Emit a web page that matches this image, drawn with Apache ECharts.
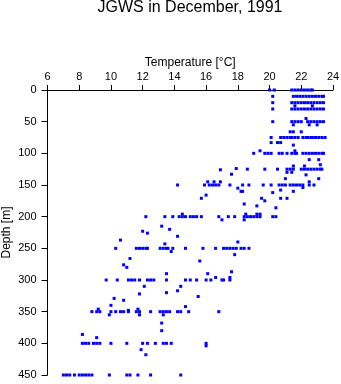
<!DOCTYPE html>
<html>
<head>
<meta charset="utf-8">
<script src="https://cdn.jsdelivr.net/npm/echarts@6/dist/echarts.min.js"></script>
<style>
html,body{margin:0;padding:0;background:#fff;}
#chart{width:341px;height:384px;}
</style>
</head>
<body>
<div id="chart"></div>
<script>
const titleText = "JGWS in December, 1991";
const xAxisName = "Temperature [°C]";
const yAxisName = "Depth [m]";
const xTicks = [6, 8, 10, 12, 14, 16, 18, 20, 22, 24];
const yTicks = [0, 50, 100, 150, 200, 250, 300, 350, 400, 450];

// depth levels (m) and temperatures (°C) observed at each level
const depths = [0, 10, 20, 25, 30, 45, 50, 55, 66, 75, 83, 87, 96, 100, 110, 118, 120, 124, 125, 126, 130, 133, 134, 140, 145, 150, 154, 155, 158, 160, 162, 166, 171, 175, 180, 183, 186, 196, 200, 205, 215, 220, 223, 226, 231, 237, 240, 243, 250, 255, 260, 266, 270, 276, 280, 287, 290, 296, 300, 310, 317, 320, 322, 326, 329, 332, 340, 342, 346, 348, 350, 355, 368, 380, 386, 391, 400, 404, 410, 418, 450];
const temps = [
  [20.0, 20.3, 21.4, 21.6, 21.8, 22.0, 22.2, 22.4, 22.6, 22.7],
  [20.2, 21.5, 21.7, 21.9, 22.1, 22.3, 22.5, 22.7, 22.9, 23.1, 23.3, 23.4],
  [20.2, 21.4, 21.6, 21.8, 22.0, 22.2, 22.4, 22.6, 22.8, 23.0, 23.2, 23.4],
  [21.6, 22.7],
  [20.2, 21.4, 21.6, 21.8, 22.0, 22.2, 22.4, 22.6, 22.8, 23.0, 23.2, 23.4],
  [22.3],
  [20.2, 21.4, 21.6, 21.8, 22.0, 22.4, 22.6, 22.8, 23.0, 23.2, 23.4],
  [21.5, 22.5, 23.0],
  [21.3, 21.5, 22.0],
  [20.1, 20.7, 20.9, 21.1, 21.3, 21.4, 21.6, 21.8, 22.1, 22.3, 22.4, 22.6, 22.7, 22.9, 23.1, 23.3, 23.5],
  [20.1, 20.5, 20.7],
  [21.5],
  [21.6, 19.4],
  [19.0, 19.7, 19.9, 20.1, 20.6, 20.8, 21.1, 21.4, 21.6, 21.7, 22.1, 22.3, 22.5, 22.7, 22.9, 23.1, 23.3, 23.4],
  [22.5, 23.1],
  [23.2],
  [21.5, 22.2],
  [17.9],
  [18.6, 19.7, 20.5, 21.1, 21.3, 21.5, 22.0, 22.2, 22.4, 22.6, 22.8, 23.0, 23.2, 23.3],
  [16.9],
  [21.1, 21.4],
  [17.6],
  [22.3],
  [23.1, 21.0],
  [22.5, 16.1, 16.5, 16.9],
  [14.2, 15.9, 16.2, 16.4, 16.6, 16.8, 17.5, 18.3, 18.7, 19.6, 20.1, 20.6, 20.8, 21.0, 21.3, 21.5, 21.7, 21.9, 22.1, 22.5, 22.8],
  [22.1],
  [18.0],
  [20.7],
  [18.2, 21.5, 18.3],
  [20.2],
  [16.0],
  [15.7, 19.5, 20.7, 21.1],
  [19.7],
  [18.4],
  [19.2],
  [20.4],
  [14.5, 18.5, 19.2, 19.4],
  [12.2, 13.4, 13.9, 14.3, 14.5, 14.7, 15.0, 15.2, 15.4, 15.7, 16.8, 17.4, 17.8, 18.4, 18.6, 18.8, 19.0, 19.2, 19.4, 20.2, 20.4],
  [17.0, 18.4],
  [13.2],
  [13.7],
  [12.0],
  [12.3],
  [14.2],
  [10.6],
  [18.0],
  [13.4],
  [10.3, 11.6, 11.8, 12.0, 12.2, 12.3, 13.1, 13.3, 13.5, 13.6, 13.9, 14.7, 15.8, 16.6, 17.1, 17.3, 17.5, 17.7, 17.9, 18.2, 18.4, 18.7],
  [13.8],
  [17.8],
  [11.2],
  [15.6],
  [10.8],
  [11.0],
  [17.6],
  [13.5, 16.1],
  [16.6, 17.5],
  [9.7, 10.4, 11.1, 11.3, 11.5, 11.8, 12.3, 12.5, 12.7, 13.5, 14.7, 15.0, 15.4, 16.0, 16.3, 17.0, 17.1, 17.5],
  [12.1, 14.4],
  [14.2],
  [13.5],
  [11.8],
  [15.5],
  [10.2],
  [10.8],
  [10.0],
  [14.7],
  [9.2, 11.7],
  [11.1],
  [8.8, 9.1, 9.3, 10.0, 10.3, 10.6, 10.8, 11.1, 11.6, 11.8, 12.5, 13.1, 13.3, 13.5, 13.7, 14.2, 14.4, 14.9, 16.8],
  [9.9, 11.8, 13.3],
  [13.2],
  [13.2],
  [8.2],
  [9.1],
  [8.2, 8.4, 8.6, 8.9, 9.1, 9.3, 10.0, 11.0, 12.0, 12.3, 12.8, 13.3, 13.5, 13.8, 16.0],
  [16.0],
  [11.9],
  [12.2],
  [7.0, 7.2, 7.4, 7.7, 8.0, 8.2, 8.4, 8.6, 8.8, 9.9, 11.0, 11.2, 11.7, 12.5, 14.4]
];

const points = [];
depths.forEach(function (d, i) {
  temps[i].forEach(function (t) { points.push([t, d]); });
});

const font = "'Liberation Sans', Arial, sans-serif";
const chart = echarts.init(document.getElementById('chart'), null, {renderer: 'canvas'});
chart.setOption({
  animation: false,
  backgroundColor: '#ffffff',
  title: {
    text: titleText,
    left: 190,
    textAlign: 'center',
    top: 0,
    padding: 0,
    textStyle: {fontFamily: font, fontSize: 16, fontWeight: 'normal', color: '#000'}
  },
  grid: {left: 47.5, right: 8, top: 90, bottom: 9, containLabel: false, outerBoundsMode: 'none'},
  xAxis: {
    type: 'value',
    position: 'top',
    min: xTicks[0],
    max: xTicks[xTicks.length - 1],
    interval: 2,
    name: xAxisName,
    nameLocation: 'middle',
    nameGap: 21,
    nameMoveOverlap: false,
    nameTextStyle: {fontFamily: font, fontSize: 12, color: '#000'},
    axisLine: {show: true, onZero: false, lineStyle: {color: '#000', width: 1}},
    axisTick: {show: true, inside: false, length: 5, lineStyle: {color: '#000'}},
    axisLabel: {fontFamily: font, fontSize: 11, color: '#000', margin: 8},
    splitLine: {show: false}
  },
  yAxis: {
    type: 'value',
    inverse: true,
    min: yTicks[0],
    max: yTicks[yTicks.length - 1],
    interval: 50,
    name: yAxisName,
    nameLocation: 'middle',
    nameGap: 35,
    nameRotate: 90,
    nameMoveOverlap: false,
    nameTextStyle: {fontFamily: font, fontSize: 12, color: '#000'},
    axisLine: {show: true, onZero: false, lineStyle: {color: '#000', width: 1}},
    axisTick: {show: true, inside: false, length: 6, lineStyle: {color: '#000'}},
    axisLabel: {fontFamily: font, fontSize: 11, color: '#000', margin: 11},
    splitLine: {show: false}
  },
  series: [{
    type: 'scatter',
    data: points,
    symbol: 'rect',
    symbolSize: 3,
    itemStyle: {color: '#0000ff', opacity: 1},
    silent: true
  }]
});
</script>
</body>
</html>
